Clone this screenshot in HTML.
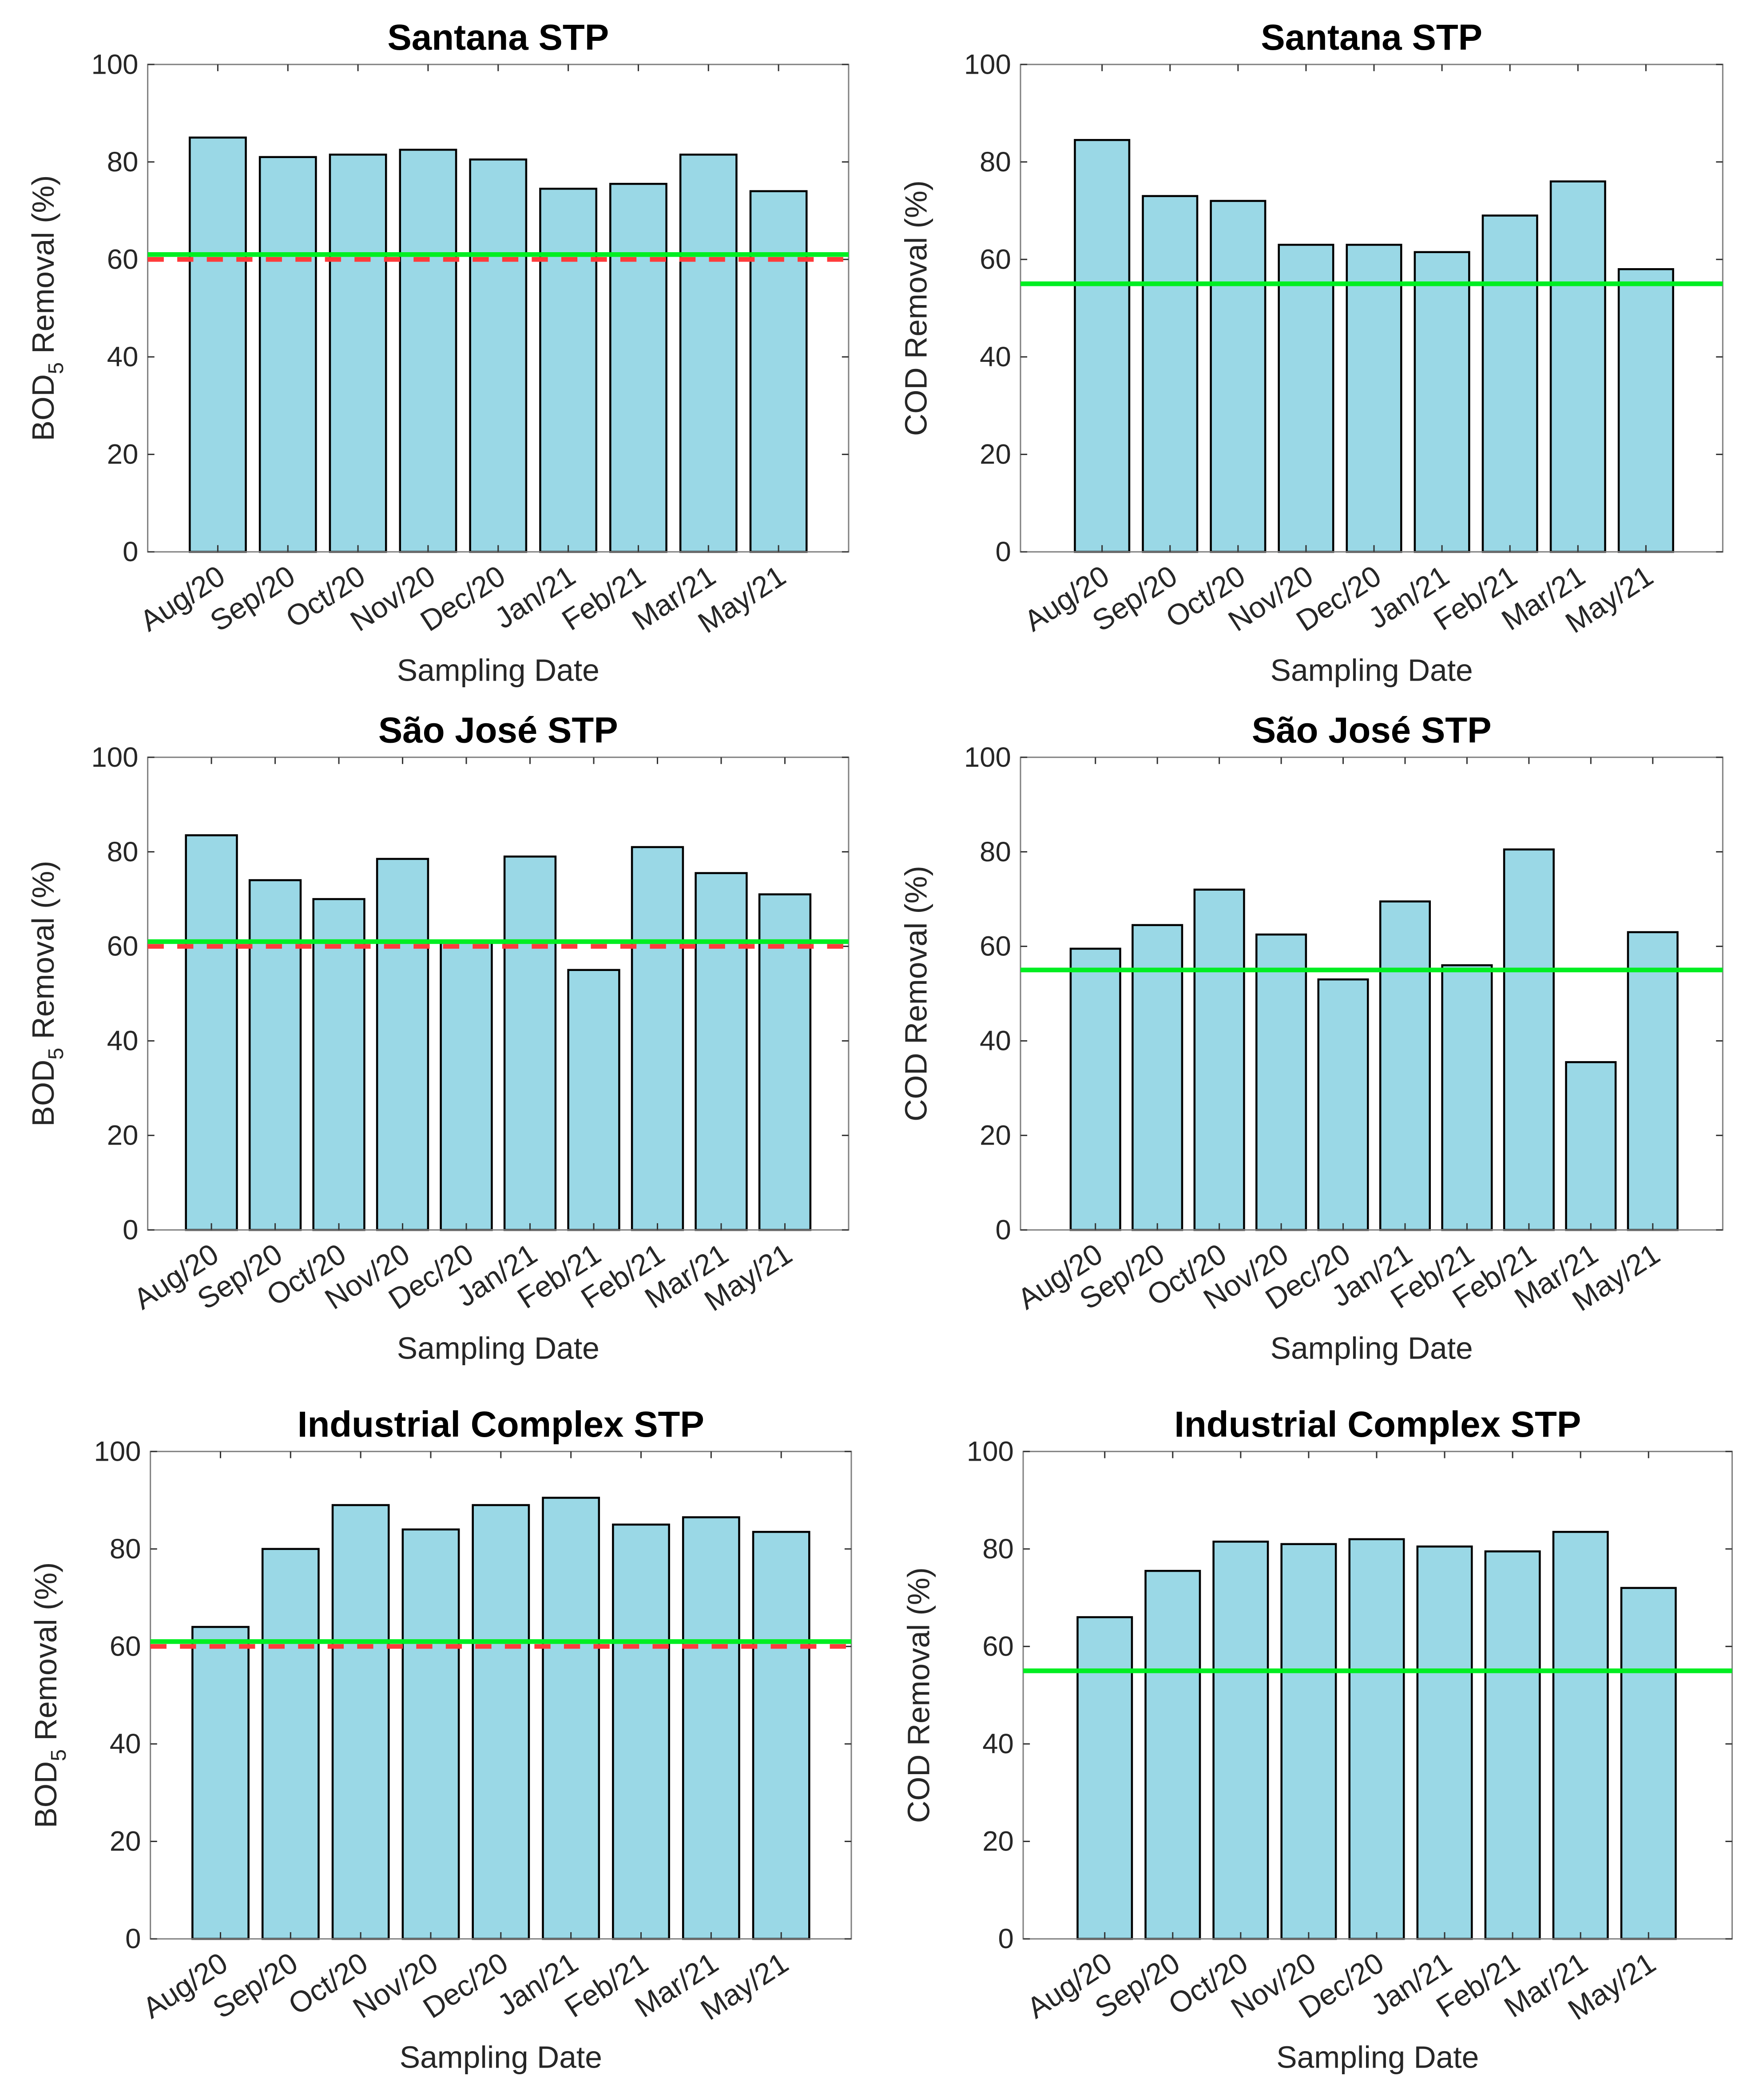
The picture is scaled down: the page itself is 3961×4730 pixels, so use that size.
<!DOCTYPE html>
<html><head><meta charset="utf-8"><style>
html,body{margin:0;padding:0;background:#fff;}
svg{display:block;}
text{font-family:"Liberation Sans",Arial,sans-serif;}
</style></head><body>
<svg id="fig" width="3961" height="4730" viewBox="0 0 1310 1564" preserveAspectRatio="none" xmlns="http://www.w3.org/2000/svg"></svg>
<script>
const labels9 = ["Aug/20","Sep/20","Oct/20","Nov/20","Dec/20","Jan/21","Feb/21","Mar/21","May/21"];
const labels10 = ["Aug/20","Sep/20","Oct/20","Nov/20","Dec/20","Jan/21","Feb/21","Feb/21","Mar/21","May/21"];
const santanaBOD = [85,81,81.5,82.5,80.5,74.5,75.5,81.5,74];
const santanaCOD = [84.5,73,72,63,63,61.5,69,76,58];
const saoJoseBOD = [83.5,74,70,78.5,61,79,55,81,75.5,71];
const saoJoseCOD = [59.5,64.5,72,62.5,53,69.5,56,80.5,35.5,63];
const industrialBOD = [64,80,89,84,89,90.5,85,86.5,83.5];
const industrialCOD = [66,75.5,81.5,81,82,80.5,79.5,83.5,72];
const yTicks = [0,20,40,60,80,100];
const bodLimit = 60, bodGreen = 61, codGreen = 55;

const NS = "http://www.w3.org/2000/svg";
const svg = document.getElementById('fig');
function mk(tag, attrs, parent){ const e=document.createElementNS(NS,tag); for(const k in attrs) e.setAttribute(k,attrs[k]); (parent||svg).appendChild(e); return e; }

const panels = [
 {name:'santana-bod', title:'Santana STP', x0:110,x1:632,y0:48,y1:411, xmin:0,xmax:10, cats:labels9, vals:santanaBOD, bod:true},
 {name:'santana-cod', title:'Santana STP', x0:760,x1:1283,y0:48,y1:411, xmin:-0.2,xmax:10.13, cats:labels9, vals:santanaCOD, bod:false},
 {name:'sao-jose-bod', title:'São José STP', x0:110,x1:632,y0:564,y1:916, xmin:0,xmax:11, cats:labels10, vals:saoJoseBOD, bod:true},
 {name:'sao-jose-cod', title:'São José STP', x0:760,x1:1283,y0:564,y1:916, xmin:-0.21,xmax:11.13, cats:labels10, vals:saoJoseCOD, bod:false},
 {name:'industrial-bod', title:'Industrial Complex STP', x0:112,x1:634,y0:1081,y1:1444, xmin:0,xmax:10, cats:labels9, vals:industrialBOD, bod:true},
 {name:'industrial-cod', title:'Industrial Complex STP', x0:762,x1:1290,y0:1081,y1:1444, xmin:-0.2,xmax:10.23, cats:labels9, vals:industrialCOD, bod:false}
];

panels.forEach(p=>{
  const g = mk('g',{});
  
  
  const X = v => p.x0 + (v-p.xmin)/(p.xmax-p.xmin)*(p.x1-p.x0);
  const Y = v => p.y1 - v/100*(p.y1-p.y0);
  const unit = (p.x1-p.x0)/(p.xmax-p.xmin);
  p.vals.forEach((v,i)=>{
    const cx = X(i+1), w = 0.8*unit;
    const r = mk('rect',{x:cx-w/2,y:Y(v),width:w,height:Y(0)-Y(v),fill:'#9AD8E6',stroke:'#000','stroke-width':1.5},g);
    
    
  });
  const box = mk('rect',{x:p.x0,y:p.y0,width:p.x1-p.x0,height:p.y1-p.y0,fill:'none',stroke:'#808080','stroke-width':1},g);
  
  
  yTicks.forEach(t=>{
    mk('line',{x1:p.x0,x2:p.x0+5,y1:Y(t),y2:Y(t),stroke:'#333','stroke-width':1},g);
    mk('line',{x1:p.x1,x2:p.x1-5,y1:Y(t),y2:Y(t),stroke:'#333','stroke-width':1},g);
    const tl = mk('text',{x:p.x0-7,y:Y(t)+7,'text-anchor':'end','font-size':21,fill:'#262626'},g);
    tl.textContent = t;
    
    
  });
  p.cats.forEach((c,i)=>{
    const cx = X(i+1);
    mk('line',{x1:cx,x2:cx,y1:p.y1,y2:p.y1-5,stroke:'#333','stroke-width':1},g);
    mk('line',{x1:cx,x2:cx,y1:p.y0,y2:p.y0+5,stroke:'#333','stroke-width':1},g);
    const tx = cx+7, ty = p.y1+22;
    const tl = mk('text',{x:tx,y:ty,'text-anchor':'end','font-size':22,fill:'#262626',transform:`rotate(-33 ${tx} ${ty})`},g);
    tl.textContent = c;
    
    
  });
  if(p.bod){
    const rl = mk('line',{x1:p.x0,x2:p.x1,y1:Y(bodLimit),y2:Y(bodLimit),stroke:'#FF3B3B','stroke-width':3.5,'stroke-dasharray':'12,10'},g);
    
    
    const gl = mk('line',{x1:p.x0,x2:p.x1,y1:Y(bodGreen),y2:Y(bodGreen),stroke:'#00EE22','stroke-width':3.5},g);
    
    
  } else {
    const gl = mk('line',{x1:p.x0,x2:p.x1,y1:Y(codGreen),y2:Y(codGreen),stroke:'#00EE22','stroke-width':3.5},g);
    
    
  }
  const cxm = (p.x0+p.x1)/2;
  const t = mk('text',{x:cxm,y:p.y0-11,'text-anchor':'middle','font-size':27,'font-weight':'bold',fill:'#000'},g);
  t.textContent = p.title;
  
  
  const xl = mk('text',{x:cxm,y:p.y1+96,'text-anchor':'middle','font-size':23,fill:'#262626'},g);
  xl.textContent = 'Sampling Date';
  
  
  const ym = (p.y0+p.y1)/2, yx = p.x0-70;
  const yl = mk('text',{x:yx,y:ym,'text-anchor':'middle','font-size':23,fill:'#262626',transform:`rotate(-90 ${yx} ${ym})`},g);
  if(p.bod){
    yl.appendChild(document.createTextNode('BOD'));
    const sub = mk('tspan',{'font-size':16,dy:7},yl); sub.textContent='5';
    const rest = mk('tspan',{dy:-7},yl); rest.textContent=' Removal (%)';
  } else {
    yl.textContent = 'COD Removal (%)';
  }
  
  
});
</script>
</body></html>
